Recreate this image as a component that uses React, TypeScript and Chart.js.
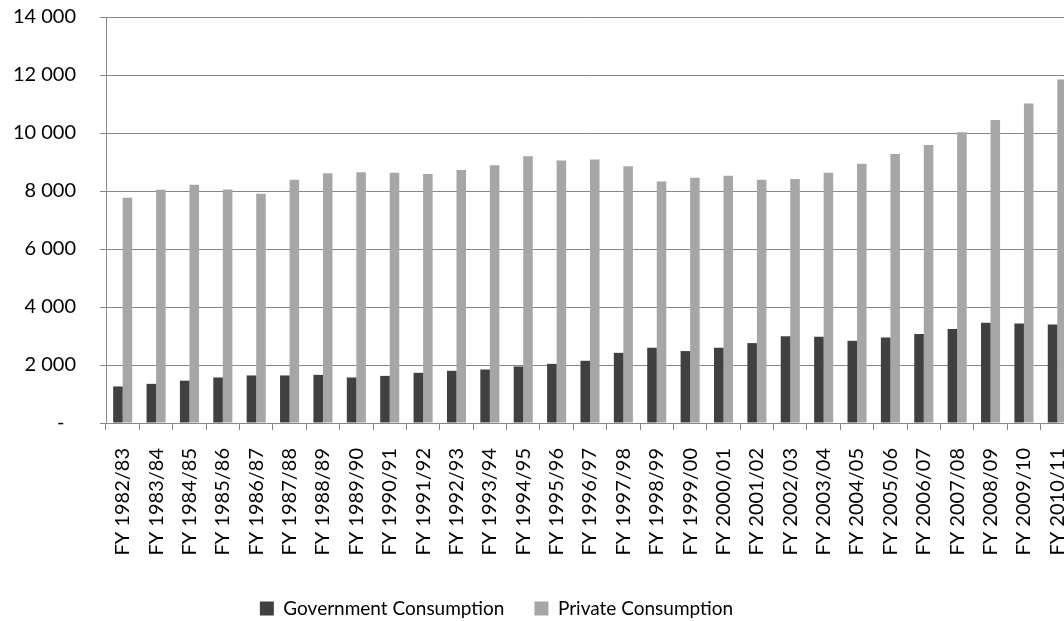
import React, { useEffect, useRef } from 'react';
import { Chart, registerables } from 'chart.js';

Chart.register(...registerables);

// Fiscal years on the category axis
const categories: string[] = [
  'FY 1982/83', 'FY 1983/84', 'FY 1984/85', 'FY 1985/86', 'FY 1986/87',
  'FY 1987/88', 'FY 1988/89', 'FY 1989/90', 'FY 1990/91', 'FY 1991/92',
  'FY 1992/93', 'FY 1993/94', 'FY 1994/95', 'FY 1995/96', 'FY 1996/97',
  'FY 1997/98', 'FY 1998/99', 'FY 1999/00', 'FY 2000/01', 'FY 2001/02',
  'FY 2002/03', 'FY 2003/04', 'FY 2004/05', 'FY 2005/06', 'FY 2006/07',
  'FY 2007/08', 'FY 2008/09', 'FY 2009/10', 'FY 2010/11',
];

const governmentConsumption: number[] = [
  1260, 1350, 1460, 1570, 1640, 1640, 1660, 1570, 1625, 1730,
  1800, 1845, 1950, 2040, 2145, 2420, 2595, 2480, 2595, 2755,
  2995, 2975, 2835, 2950, 3065, 3240, 3455, 3435, 3400,
];

const privateConsumption: number[] = [
  7770, 8045, 8215, 8055, 7905, 8390, 8610, 8650, 8630, 8585,
  8725, 8885, 9195, 9055, 9090, 8850, 8330, 8460, 8525, 8390,
  8410, 8630, 8940, 9275, 9590, 10025, 10450, 11015, 11845,
];

const seriesNames: string[] = ['Government Consumption', 'Private Consumption'];

const yMin = 0;
const yMax = 14000;
const yStep = 2000;

const FONT_FAMILY = 'Lato, "Open Sans", sans-serif';
const TEXT_COLOR = '#000000';
const LINE_COLOR = '#878787';

const CANVAS_W = 1155;
const CANVAS_H = 628;
const CANVAS_LEFT = -81;

const formatTick = (v: number): string => {
  if (v === 0) return '-\u2007';
  return String(v).replace(/\B(?=(\d{3})+(?!\d))/g, ' ');
};

export default function App() {
  const canvasRef = useRef<HTMLCanvasElement | null>(null);

  useEffect(() => {
    const canvas = canvasRef.current;
    if (!canvas) return;
    const chart = new Chart(canvas, {
      type: 'bar',
      data: {
        labels: categories,
        datasets: [
          {
            label: seriesNames[0],
            data: governmentConsumption,
            backgroundColor: '#404040',
            borderWidth: 0,
          },
          {
            label: seriesNames[1],
            data: privateConsumption,
            backgroundColor: '#a6a6a6',
            borderWidth: 0,
          },
        ],
      },
      options: {
        animation: false,
        responsive: false,
        devicePixelRatio: 1,
        layout: { padding: { top: 17, left: 0, right: 0, bottom: 0 } },
        datasets: {
          bar: { categoryPercentage: 1 / 1.75, barPercentage: 1 },
        },
        plugins: {
          legend: {
            position: 'bottom',
            labels: {
              boxWidth: 14,
              boxHeight: 14,
              padding: 30,
              color: TEXT_COLOR,
              font: { family: FONT_FAMILY, size: 19 },
            },
          },
          tooltip: { enabled: false },
        },
        scales: {
          x: {
            offset: true,
            grid: {
              display: true,
              offset: true,
              drawOnChartArea: false,
              drawTicks: true,
              tickLength: 7,
              color: LINE_COLOR,
            },
            border: { display: true, color: LINE_COLOR, width: 1 },
            ticks: {
              autoSkip: false,
              minRotation: 90,
              maxRotation: 90,
              padding: 18,
              color: TEXT_COLOR,
              font: { family: FONT_FAMILY, size: 20 },
            },
            afterFit: (scale: any) => {
              scale.height = 146;
              scale.paddingLeft = 0;
              scale.paddingRight = 0;
            },
          },
          y: {
            min: yMin,
            max: yMax,
            grid: { color: LINE_COLOR, tickLength: 6 },
            border: { display: true, color: LINE_COLOR, width: 1 },
            ticks: {
              stepSize: yStep,
              padding: 24,
              color: TEXT_COLOR,
              font: { family: FONT_FAMILY, size: 20 },
              callback: (value: any) => formatTick(Number(value)),
            },
            afterFit: (scale: any) => {
              scale.width = 187;
              scale.paddingTop = 0;
              scale.paddingBottom = 0;
            },
          },
        },
      },
    });
    return () => chart.destroy();
  }, []);

  return (
    <div
      style={{
        position: 'fixed',
        left: 0,
        top: 0,
        width: 1064,
        height: 621,
        overflow: 'hidden',
        background: '#ffffff',
      }}
    >
      <canvas
        ref={canvasRef}
        width={CANVAS_W}
        height={CANVAS_H}
        style={{ position: 'absolute', left: CANVAS_LEFT, top: 0, width: CANVAS_W, height: CANVAS_H }}
      />
    </div>
  );
}
